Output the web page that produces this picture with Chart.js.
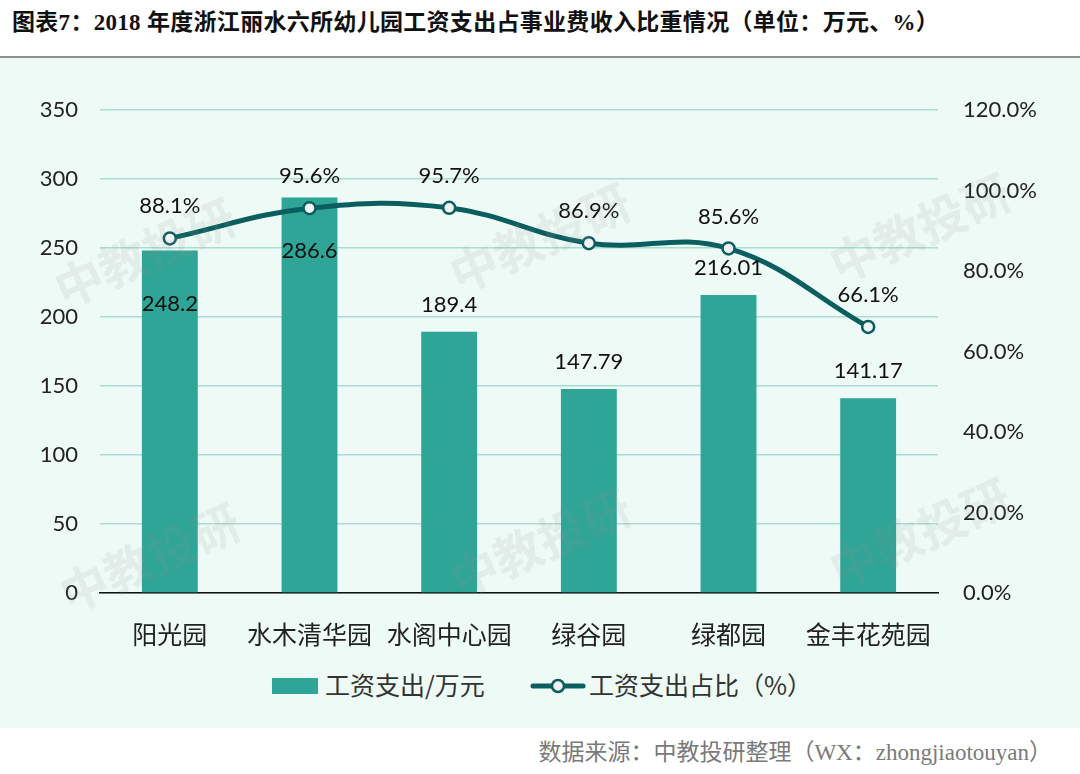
<!DOCTYPE html>
<html>
<head>
<meta charset="utf-8">
<script src="https://cdn.jsdelivr.net/npm/chart.js@4.4.1/dist/chart.umd.min.js"></script>
<style>
  body { margin: 0; width: 1080px; height: 774px; background: #fff; position: relative; overflow: hidden; }
  #title { position: absolute; left: 12px; top: 3px; font: bold 23px "Liberation Serif", "Noto Sans CJK SC", serif; color: #111; white-space: nowrap; letter-spacing: 0.3px; }
  #rule { position: absolute; left: 0; top: 56px; width: 1080px; height: 2px; background: #8f8f8f; }
  #panel { position: absolute; left: 0; top: 58px; width: 1080px; height: 670px; background: #eefaf6; }
  #chart-wrap { position: absolute; left: 0; top: 0; width: 1080px; height: 600px; }
  .legend { position: absolute; top: 666px; font: 25px "Noto Sans CJK SC", sans-serif; color: #333; white-space: nowrap; }
  #footer { position: absolute; right: 28px; top: 733px; font: 23px "Liberation Serif", "Noto Sans CJK SC", serif; color: #7a7a7a; white-space: nowrap; }
</style>
</head>
<body>
<div id="title">图表7：2018 年度浙江丽水六所幼儿园工资支出占事业费收入比重情况（单位：万元、%）</div>
<div id="rule"></div>
<div id="panel">
  <div id="chart-wrap"><canvas id="chart" width="1080" height="600"></canvas></div>
</div>
<div class="legend" style="left:272px;">
  <span style="display:inline-block;width:46px;height:16px;background:#2ea596;vertical-align:middle;margin-right:7px;position:relative;top:-2px;"></span>工资支出/万元
</div>
<div class="legend" style="left:530px;">
  <svg width="56" height="20" style="vertical-align:middle;margin-right:3px;position:relative;top:-2px;"><line x1="3" y1="10" x2="53" y2="10" stroke="#0b5e5f" stroke-width="5" stroke-linecap="round"/><circle cx="28" cy="10" r="6" fill="#f2f2f2" stroke="#0b5e5f" stroke-width="2.5"/></svg>工资支出占比（%）
</div>
<div id="footer">数据来源：中教投研整理（WX：zhongjiaotouyan）</div>

<script>
const categories = ['阳光园', '水木清华园', '水阁中心园', '绿谷园', '绿都园', '金丰花苑园'];
const salaryValues = [248.2, 286.6, 189.4, 147.79, 216.01, 141.17];
const salaryLabels = ['248.2', '286.6', '189.4', '147.79', '216.01', '141.17'];
const shareValues = [88.1, 95.6, 95.7, 86.9, 85.6, 66.1];
const leftTicks = [0, 50, 100, 150, 200, 250, 300, 350];
// bar labels sit inside the bar where the line labels would collide
const barLabelPlace = ['in', 'in', 'out', 'out', 'out', 'out'];

const barColor = '#2ea596';
const lineColor = '#0b5e5f';
const numFont = '22px Lato, "Noto Sans", sans-serif';

// draw the value labels for both datasets
const valueLabels = {
    id: 'valueLabels',
    afterDatasetsDraw(chart) {
        const ctx = chart.ctx;
        ctx.save();
        ctx.font = numFont;
        ctx.fillStyle = '#111';
        ctx.textAlign = 'center';
        ctx.textBaseline = 'middle';

        const bars = chart.getDatasetMeta(0).data;
        bars.forEach((bar, i) => {
            const y = barLabelPlace[i] === 'in' ? bar.y + 53 : bar.y - 27;
            ctx.fillText(salaryLabels[i], bar.x, y);
        });

        const points = chart.getDatasetMeta(1).data;
        points.forEach((pt, i) => {
            ctx.fillText(shareValues[i].toFixed(1) + '%', pt.x, pt.y - 32);
        });
        ctx.restore();
    }
};

// faint "中教投研" watermarks
const watermark = {
    id: 'watermark',
    afterDraw(chart) {
        const ctx = chart.ctx;
        const spots = [[145, 195], [540, 180], [920, 170], [150, 500], [540, 485], [920, 475]];
        ctx.save();
        ctx.font = 'bold 48px "Noto Sans CJK SC", sans-serif';
        ctx.fillStyle = 'rgba(150, 150, 150, 0.13)';
        ctx.textAlign = 'center';
        ctx.textBaseline = 'middle';
        for (const [x, y] of spots) {
            ctx.save();
            ctx.translate(x, y);
            ctx.rotate(-0.42);
            ctx.fillText('中教投研', 0, 0);
            ctx.restore();
        }
        ctx.restore();
    }
};

const chart = new Chart(document.getElementById('chart').getContext('2d'), {
    data: {
        labels: categories,
        datasets: [
            {
                type: 'bar',
                label: '工资支出/万元',
                data: salaryValues,
                backgroundColor: barColor,
                categoryPercentage: 1,
                barPercentage: 0.4,
                yAxisID: 'y',
                order: 2
            },
            {
                type: 'line',
                label: '工资支出占比（%）',
                data: shareValues,
                borderColor: lineColor,
                borderWidth: 5,
                tension: 0.4,
                pointRadius: 6,
                pointBorderWidth: 2.5,
                pointBackgroundColor: '#f2f2f2',
                pointBorderColor: lineColor,
                fill: false,
                yAxisID: 'y1',
                order: 1
            }
        ]
    },
    options: {
        responsive: false,
        animation: false,
        layout: { padding: { top: 52, left: 0, right: 0, bottom: 0 } },
        plugins: {
            legend: { display: false },
            tooltip: { enabled: false }
        },
        scales: {
            x: {
                grid: { display: false },
                border: { display: true, color: '#111', width: 1.5 },
                ticks: {
                    color: '#222',
                    padding: 18,
                    font: { family: '"Noto Sans CJK SC", sans-serif', size: 25 }
                },
                afterFit(scale) { scale.height = 65; }
            },
            y: {
                position: 'left',
                min: 0,
                max: 350,
                afterBuildTicks(scale) { scale.ticks = leftTicks.map(v => ({ value: v })); },
                grid: { color: '#a9dcd2', lineWidth: 1.5, drawTicks: false },
                border: { display: false },
                ticks: {
                    color: '#222',
                    padding: 22,
                    font: { family: 'Lato, "Noto Sans", sans-serif', size: 22 }
                },
                afterFit(scale) { scale.width = 100; }
            },
            y1: {
                position: 'right',
                min: 0,
                max: 120,
                ticks: {
                    stepSize: 20,
                    color: '#222',
                    padding: 25,
                    font: { family: 'Lato, "Noto Sans", sans-serif', size: 22 },
                    callback: v => v.toFixed(1) + '%'
                },
                grid: { display: false, drawTicks: false },
                border: { display: false },
                afterFit(scale) { scale.width = 142; }
            }
        }
    },
    plugins: [valueLabels, watermark]
});
</script>
</body>
</html>
